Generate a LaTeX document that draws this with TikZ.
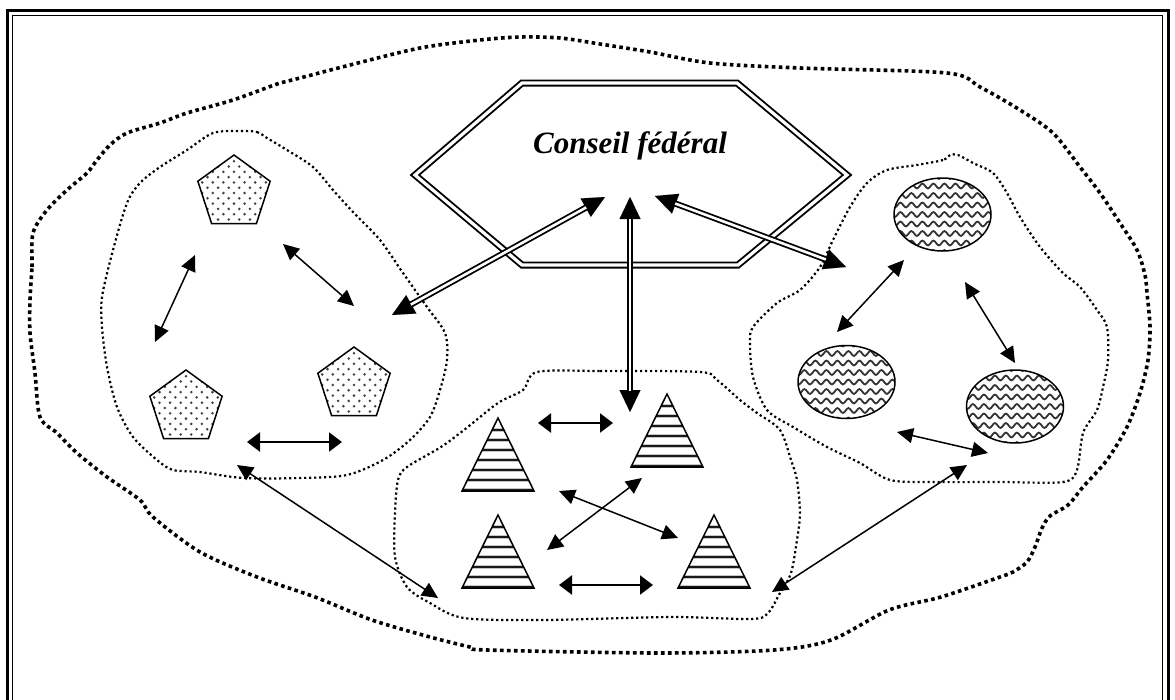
\documentclass[tikz,border=0pt]{standalone}
\usepackage{fontspec}
\setmainfont{Liberation Serif}
\usetikzlibrary{arrows.meta,shapes.geometric,decorations.pathmorphing}
\definecolor{dotcol}{gray}{0.25}
\definecolor{wavecol}{gray}{0.2}
\tikzset{
  outerdot/.style={line width=3.6pt, dash pattern=on 3.6pt off 3.4pt},
  innerdot/.style={line width=2.2pt, dash pattern=on 2.2pt off 2.8pt},
  link/.style={line width=1.5pt, {Triangle[length=16pt,width=15pt]}-{Triangle[length=16pt,width=15pt]}},
  hlink/.style={line width=2.2pt, {Triangle[length=13pt,width=19pt]}-{Triangle[length=13pt,width=19pt]}},
  dbltips/.style={line width=0.01pt, {Triangle[length=22pt,width=21pt]}-{Triangle[length=22pt,width=21pt]}},
  dblshaft/.style={line width=1.8pt, double, double distance=2.6pt, shorten <=21.5pt, shorten >=21.5pt},
  hexline/.style={line width=1.9pt, double, double distance=3.2pt, line join=miter},
  penta/.style={regular polygon, regular polygon sides=5, minimum size=76pt, inner sep=0pt,
    draw, line width=1.5pt,
    path picture={\foreach \i in {-5,...,5} \foreach \j in {-5,...,5} {
      \fill[dotcol, shift={(path picture bounding box.center)}] (\i*10.6,\j*10.6) circle (1.4pt) (\i*10.6+5.3,\j*10.6+5.3) circle (1.4pt);}}},
  oval/.style={ellipse, minimum width=97pt, minimum height=73pt, inner sep=0pt,
    draw, line width=1.5pt,
    path picture={\foreach \k in {-4,...,4} {
      \draw[wavecol, line width=1.8pt, decorate, decoration={snake, amplitude=2.4pt, segment length=11pt}]
        ([xshift=-8pt, yshift=\k*9.5pt]path picture bounding box.west) -- ([xshift=8pt, yshift=\k*9.5pt]path picture bounding box.east);}}},
}
\newcommand{\stri}[3]{%
  \coordinate (#1) at (#2,#3);
  \begin{scope}
    \clip (#2,#3) -- ++(-36,73) -- ++(72,0) -- cycle;
    \foreach \s in {12,22,...,72} {
      \draw[gray!45, line width=3.6pt] (#2-40,#3+\s) -- (#2+40,#3+\s);
      \draw[black!90, line width=1.9pt] (#2-40,#3+\s) -- (#2+40,#3+\s);
    }
  \end{scope}
  \draw[line width=1.5pt, line join=miter] (#2,#3) -- ++(-36,73) -- ++(72,0) -- cycle;}
\begin{document}
\begin{tikzpicture}[x=1pt,y=-1pt]
\useasboundingbox (0,0) rectangle (1175,699);
\fill[white] (0,0) rectangle (1175,699);
% page frame
\draw[line width=3pt] (7,720) -- (7,10) -- (1168,10) -- (1168,720);
\draw[line width=1.3pt] (12.5,720) -- (12.5,15.5) -- (1162.5,15.5) -- (1162.5,720);

% outer boundary
\draw[outerdot] plot[smooth cycle, tension=0.5] coordinates {
 (30,300) (32,267) (33,233) (47,210) (67,190) (87,173) (97,160) (110,145) (127,133)
 (160,123) (187,113) (233,100) (280,83) (300,78) (350,65) (420,48) (480,40) (520,37)
 (560,38) (600,44) (650,52) (710,63) (800,68) (947,73) (980,87) (1020,110) (1053,133)
 (1080,167) (1100,193) (1120,223) (1137,250) (1145,275) (1147,293) (1150,327) (1148,360)
 (1140,393) (1127,427) (1107,460) (1083,487) (1068,505) (1050,516) (1042,528) (1035,547)
 (1027,562) (1013,572) (1000,577) (941,597) (889,610) (831,640) (774,650) (659,653)
 (487,650) (470,647) (430,637) (372,620) (315,597) (257,577) (200,552) (153,517)
 (140,500) (107,477) (77,453) (57,433) (40,417) (35,373) (30,333)};

% left inner boundary
\draw[innerdot] plot[smooth cycle, tension=0.5] coordinates {
 (240,131) (257,132) (267,138) (287,150) (313,167) (333,190) (353,212) (380,240)
 (403,273) (427,307) (445,333) (447,360) (440,390) (430,417) (410,440) (383,460)
 (347,475) (300,478) (243,478) (200,472) (173,470) (157,460) (133,437) (117,407)
 (107,367) (102,327) (102,297) (113,250) (127,203) (140,183) (160,167) (187,150) (213,133)};

% right inner boundary
\draw[innerdot] plot[smooth cycle, tension=0.5] coordinates {
 (950,155) (943,160) (917,165) (887,170) (867,183) (850,207) (833,240) (820,267)
 (800,290) (777,303) (753,327) (750,343) (753,377) (767,410) (793,427) (827,447)
 (860,463) (890,480) (933,482) (1000,482) (1063,482) (1077,470) (1083,433) (1097,410)
 (1103,387) (1108,360) (1107,327) (1097,310) (1080,287) (1063,273) (1040,247) (1020,217)
 (1007,193) (993,173) (973,163) (958,155)};

% middle inner boundary
\draw[innerdot] plot[smooth cycle, tension=0.5] coordinates {
 (537,372) (600,371) (700,372) (717,380) (740,400) (757,413) (780,430) (791,460)
 (797,480) (800,513) (797,540) (791,573) (780,593) (768,613) (751,619) (671,617)
 (544,620) (464,618) (430,603) (407,587) (395,557) (395,513) (398,480) (407,467)
 (441,447) (464,430) (498,403) (523,390)};

% Conseil federal
\draw[hexline] (415,175) -- (522,83) -- (737,83) -- (847,175) -- (738,265) -- (522,265) -- cycle;
\node[font=\bfseries\itshape\fontsize{31}{36}\selectfont, anchor=base, inner sep=0pt] (conseil) at (630,153) {Conseil fédéral};

% pentagons
\node[penta] (p1) at (234,193) {};
\node[penta] (p2) at (186,408) {};
\node[penta] (p3) at (354,385) {};

% ellipses
\node[oval] (e1) at (942.5,214.5) {};
\node[oval] (e2) at (846.5,382) {};
\node[oval] (e3) at (1015,406.5) {};

% triangles
\stri{t1}{498}{418}
\stri{t2}{667}{394}
\stri{t3}{498}{515}
\stri{t4}{714}{515}

% connector end points
\coordinate (d1a) at (392,315); \coordinate (d1b) at (605,197);
\coordinate (d2a) at (630,197); \coordinate (d2b) at (630,412);
\coordinate (d3a) at (655,196); \coordinate (d3b) at (846,267);
\coordinate (la1) at (155,342); \coordinate (la2) at (195,255);
\coordinate (lb1) at (283,244); \coordinate (lb2) at (354,306);
\coordinate (lc1) at (247,442); \coordinate (lc2) at (342,442);
\coordinate (ra1) at (904,260); \coordinate (ra2) at (837,332);
\coordinate (rb1) at (965,282); \coordinate (rb2) at (1015,363);
\coordinate (rc1) at (897,432); \coordinate (rc2) at (988,453);
\coordinate (ma1) at (538,423); \coordinate (ma2) at (613,423);
\coordinate (mb1) at (559,491); \coordinate (mb2) at (678,538);
\coordinate (mc1) at (642,478); \coordinate (mc2) at (547,550);
\coordinate (md1) at (559,585); \coordinate (md2) at (653,585);
\coordinate (g1a) at (237,465); \coordinate (g1b) at (438,598);
\coordinate (g2a) at (967,465); \coordinate (g2b) at (772,592);

% double arrows to the council
\foreach \a/\b in {d1a/d1b, d2a/d2b, d3a/d3b} {
  \draw[dbltips] (\a) -- (\b);
  \draw[dblshaft] (\a) -- (\b);
}

% single arrows
\draw[link] (la1) -- (la2);
\draw[link] (lb1) -- (lb2);
\draw[hlink] (lc1) -- (lc2);
\draw[link] (ra1) -- (ra2);
\draw[link] (rb1) -- (rb2);
\draw[link] (rc1) -- (rc2);
\draw[hlink] (ma1) -- (ma2);
\draw[link] (mb1) -- (mb2);
\draw[link] (mc1) -- (mc2);
\draw[hlink] (md1) -- (md2);
\draw[link] (g1a) -- (g1b);
\draw[link] (g2a) -- (g2b);
\end{tikzpicture}
\end{document}
